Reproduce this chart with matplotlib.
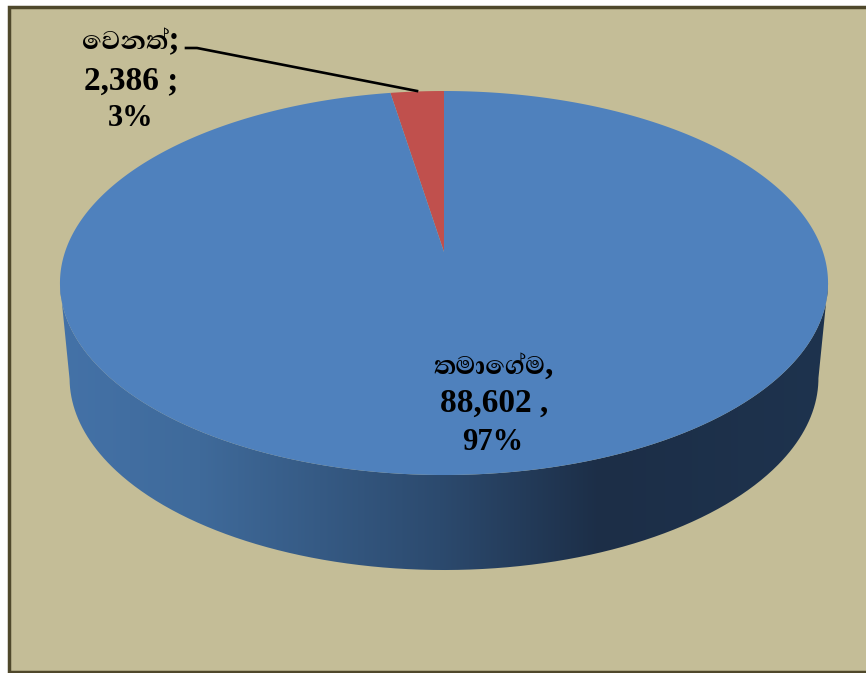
import numpy as np
import matplotlib
matplotlib.use("Agg")
import matplotlib.pyplot as plt
from matplotlib import font_manager as fm
from matplotlib.path import Path
from matplotlib.patches import PathPatch, Rectangle

# slice values, red one starts at twelve o'clock and runs counter-clockwise
labels = ["වෙනත්", "තමාගේම"]
values = [2386, 88602]
percents = ["3%", "97%"]
colors = ["#c0504d", "#4f81bd"]

# look for a font that really has the sinhala glyphs
sinhala_fonts = []
for f in fm.fontManager.ttflist:
    try:
        if 0x0DC0 in fm.get_font(f.fname).get_charmap():
            sinhala_fonts.append(f.name)
    except Exception:
        pass
sinhala_fonts = sorted(set(sinhala_fonts))


def visual_order(s):
    # matplotlib does no shaping, so the kombuva has to come before its consonant
    s = s.replace("\u0dda", "\u0dd9\u0dca")
    out = []
    for ch in s:
        if ch == "\u0dd9":
            out.insert(len(out) - 1, ch)
        else:
            out.append(ch)
    return "".join(out)


W, H = 866, 673
fig = plt.figure(figsize=(W / 100, H / 100), dpi=100)
ax = fig.add_axes([0, 0, 1, 1])
ax.set_xlim(0, W)
ax.set_ylim(H, 0)
ax.axis("off")

ax.add_patch(Rectangle((8.5, 7), W + 20, 664.5, fc="#c4bd97", ec="#4f482b", lw=2.5))

cx, cy = 444, 252
k, b, c = 379, -146.3, 0.1615


def project(deg):
    # circle to screen with the perspective squeeze of the 3d pie
    t = np.radians(deg)
    X, Y = np.sin(t), np.cos(t)
    return cx + k * X / (1 + c * Y), (cy + b * Y) / (1 + c * Y)


def wedge(a0, a1):
    t = np.linspace(a0, a1, 600)
    xs, ys = project(t)
    return np.r_[cx, xs, cx], np.r_[cy, ys, cy]


# side wall, horizontal gradient clipped to top and bottom rim
t0 = np.degrees(np.arccos(-c))
t = np.linspace(t0, 360 - t0, 500)
xs, ys = project(t)
side_depth = 95
bx = cx + (xs - cx) * 0.975
by = ys + side_depth
verts = np.c_[np.r_[xs, bx[::-1]], np.r_[ys, by[::-1]]]
side = PathPatch(Path(np.r_[verts, verts[:1]]), fc="none", ec="none")
ax.add_patch(side)
grad_x = [60, 200, 440, 600, 830]
grad_r = [0x44, 0x3f, 0x2c, 0x1c, 0x1e]
grad_g = [0x72, 0x6a, 0x4a, 0x2e, 0x33]
grad_b = [0xa8, 0x9a, 0x6e, 0x47, 0x4e]
px = np.arange(60, 831)
img = np.stack([np.interp(px, grad_x, ch) / 255 for ch in (grad_r, grad_g, grad_b)], axis=1)[None, :, :]
im = ax.imshow(img, extent=(60, 830, 580, 270), aspect="auto", zorder=1)
im.set_clip_path(side)
ax.set_xlim(0, W)
ax.set_ylim(H, 0)

angles = np.cumsum([0] + values) / sum(values) * 360
for i in range(len(values)):
    # negative angle, slices go left from the top
    xs, ys = wedge(-angles[i], -angles[i + 1])
    ax.fill(xs, ys, color=colors[i], lw=0, zorder=2)

ax.plot([186, 197, 417], [48, 48, 91], color="black", lw=1.9, zorder=3)

font = ["Liberation Serif"] + sinhala_fonts + ["DejaVu Sans"]
txt = dict(ha="center", va="center", family=font, weight="bold", color="black", zorder=4)
ax.text(131, 41, visual_order(labels[0]) + ";", fontsize=24, **txt)
ax.text(131, 81, f"{values[0]:,} ;", fontsize=24, **txt)
ax.text(131, 119, percents[0], fontsize=22, **txt)
ax.text(494, 365, visual_order(labels[1]) + ",", fontsize=24, **txt)
ax.text(494, 403, f"{values[1]:,} ,", fontsize=24, **txt)
ax.text(493, 443, percents[1], fontsize=22, **txt)

fig.savefig("out.png", dpi=100)
